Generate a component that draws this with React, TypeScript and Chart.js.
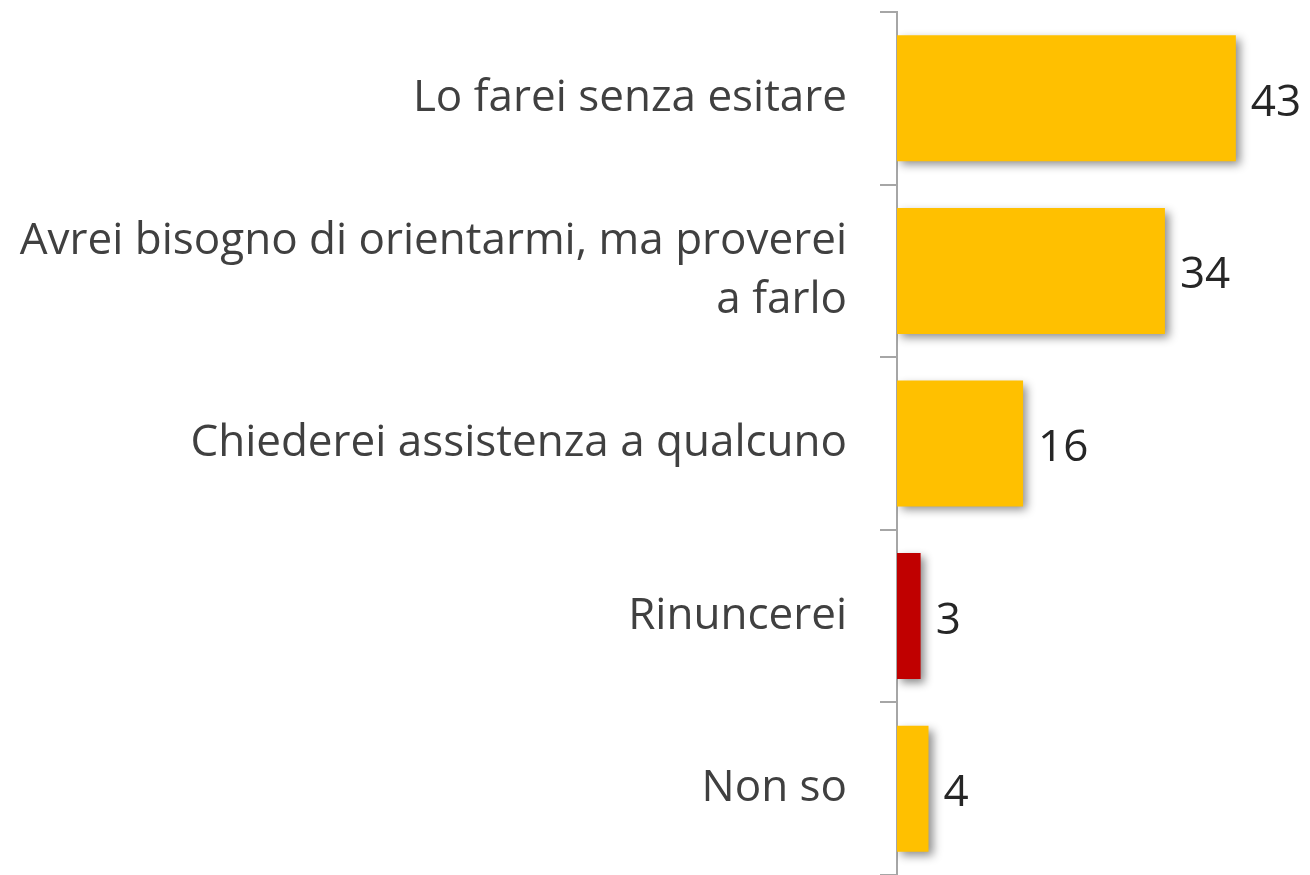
import React, { useEffect, useRef } from "react";
import { Chart, registerables } from "chart.js";

Chart.register(...registerables);

const categories: (string | string[])[] = [
  "Lo farei senza esitare",
  ["Avrei bisogno di orientarmi, ma proverei", "a farlo"],
  "Chiederei assistenza a qualcuno",
  "Rinuncerei",
  "Non so",
];
const values = [43, 34, 16, 3, 4];
const barColors = ["#FFC000", "#FFC000", "#FFC000", "#C00000", "#FFC000"];

const FONT = "'Open Sans', 'Noto Sans', sans-serif";

const shadowPlugin = {
  id: "barShadow",
  beforeDatasetsDraw(chart: any) {
    const ctx = chart.ctx;
    ctx.save();
    ctx.shadowColor = "rgba(0,0,0,0.45)";
    ctx.shadowBlur = 9;
    ctx.shadowOffsetX = 4;
    ctx.shadowOffsetY = 4;
  },
  afterDatasetsDraw(chart: any) {
    chart.ctx.restore();
  },
};

const valueLabelPlugin = {
  id: "valueLabels",
  afterDraw(chart: any) {
    const ctx = chart.ctx;
    const meta = chart.getDatasetMeta(0);
    ctx.save();
    ctx.font = `44px ${FONT}`;
    ctx.fillStyle = "#262626";
    ctx.textAlign = "left";
    ctx.textBaseline = "middle";
    meta.data.forEach((bar: any, i: number) => {
      ctx.fillText(String(values[i]), bar.x + 15, bar.y + 5);
    });
    ctx.restore();
  },
};

export default function App() {
  const ref = useRef<HTMLCanvasElement>(null);
  useEffect(() => {
    if (!ref.current) return;
    const chart = new Chart(ref.current, {
      type: "bar",
      data: {
        labels: categories,
        datasets: [
          {
            data: values,
            backgroundColor: barColors,
            borderWidth: 0,
            categoryPercentage: 0.73,
            barPercentage: 1,
          },
        ],
      },
      options: {
        indexAxis: "y",
        animation: false,
        responsive: true,
        maintainAspectRatio: false,
        layout: { padding: { top: 12, right: 19, bottom: 0, left: 0 } },
        plugins: {
          legend: { display: false },
          tooltip: { enabled: false },
        },
        scales: {
          x: {
            display: false,
            min: 0,
            max: 50,
          },
          y: {
            afterFit(scale: any) {
              scale.width = 897;
              scale.paddingTop = 0;
              scale.paddingBottom = 0;
            },
            grid: {
              offset: true,
              drawOnChartArea: false,
              drawTicks: true,
              tickLength: 17,
              color: "#A6A6A6",
              lineWidth: 2,
            },
            border: { display: true, color: "#A6A6A6", width: 2 },
            ticks: {
              padding: 33,
              color: "#404040",
              font: { family: FONT, size: 44, lineHeight: 1.36 },
            },
          },
        },
      },
      plugins: [shadowPlugin, valueLabelPlugin],
    });
    return () => chart.destroy();
  }, []);
  return (
    <div style={{ position: "fixed", left: 0, top: 0, width: 1310, height: 875, background: "#fff" }}>
      <canvas ref={ref} />
    </div>
  );
}
